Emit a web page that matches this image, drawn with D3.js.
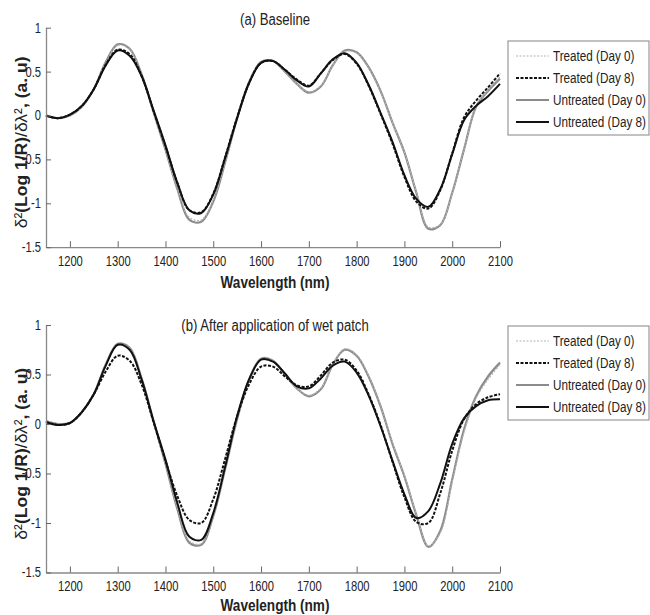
<!DOCTYPE html>
<html><head><meta charset="utf-8">
<script src="https://cdn.jsdelivr.net/npm/d3@7"></script>
<style>
body{margin:0;background:#fff;}
text{font-family:"Liberation Sans",Arial,sans-serif;}
</style></head>
<body><svg id="c" width="650" height="615"></svg>
<script>
const wavelengths = [1150,1175,1200,1225,1250,1275,1300,1325,1350,1375,1400,1425,1450,1475,1500,1525,1550,1575,1600,1625,1650,1675,1700,1725,1750,1775,1800,1825,1850,1875,1900,1925,1950,1975,2000,2025,2050,2075,2100];
const xTicks = [1200,1300,1400,1500,1600,1700,1800,1900,2000,2100];
const yTicks = [-1.5,-1,-0.5,0,0.5,1];
const seriesNames = ["Treated (Day 0)","Treated (Day 8)","Untreated (Day 0)","Untreated (Day 8)"];
const panelTitles = ["(a) Baseline","(b) After application of wet patch"];

// Panel (a) Baseline
const aTreatedDay0 = [0.00,-0.03,0.00,0.10,0.30,0.60,0.80,0.75,0.46,0.04,-0.38,-0.83,-1.16,-1.19,-0.96,-0.52,-0.03,0.38,0.61,0.62,0.50,0.36,0.27,0.34,0.57,0.73,0.71,0.54,0.27,-0.08,-0.42,-0.87,-1.27,-1.24,-0.88,-0.38,0.10,0.29,0.44];
const aTreatedDay8 = [0.00,-0.03,0.01,0.11,0.30,0.58,0.75,0.70,0.45,0.05,-0.35,-0.77,-1.08,-1.10,-0.89,-0.47,-0.02,0.37,0.60,0.62,0.52,0.41,0.34,0.48,0.63,0.70,0.59,0.34,0.02,-0.32,-0.70,-0.98,-1.06,-0.85,-0.43,-0.02,0.17,0.32,0.48];
const aUntreatedDay0 = [0.00,-0.03,0.00,0.10,0.30,0.61,0.81,0.76,0.47,0.04,-0.39,-0.84,-1.19,-1.21,-0.98,-0.53,-0.03,0.38,0.61,0.62,0.50,0.36,0.26,0.33,0.57,0.74,0.72,0.55,0.28,-0.08,-0.42,-0.88,-1.29,-1.25,-0.88,-0.38,0.10,0.28,0.42];
const aUntreatedDay8 = [0.00,-0.03,0.01,0.11,0.30,0.57,0.74,0.68,0.45,0.06,-0.34,-0.77,-1.08,-1.11,-0.90,-0.48,-0.03,0.37,0.60,0.62,0.52,0.40,0.33,0.48,0.64,0.71,0.60,0.35,0.03,-0.30,-0.68,-0.95,-1.04,-0.84,-0.44,-0.05,0.11,0.22,0.36];

// Panel (b) After application of wet patch
const bTreatedDay0 = [0.03,0.00,0.01,0.12,0.30,0.60,0.80,0.76,0.46,0.03,-0.39,-0.85,-1.18,-1.21,-0.92,-0.45,0.05,0.45,0.66,0.64,0.50,0.36,0.29,0.36,0.60,0.76,0.70,0.49,0.19,-0.19,-0.52,-0.91,-1.23,-1.10,-0.58,-0.08,0.26,0.45,0.60];
const bTreatedDay8 = [0.02,-0.01,0.01,0.12,0.30,0.53,0.69,0.64,0.40,0.02,-0.37,-0.73,-0.97,-1.00,-0.76,-0.35,0.08,0.40,0.58,0.58,0.48,0.39,0.38,0.49,0.62,0.65,0.54,0.30,-0.01,-0.38,-0.74,-0.99,-1.00,-0.70,-0.27,0.05,0.20,0.27,0.30];
const bUntreatedDay0 = [0.03,0.00,0.01,0.12,0.30,0.60,0.81,0.77,0.46,0.03,-0.40,-0.86,-1.20,-1.22,-0.93,-0.45,0.05,0.45,0.66,0.64,0.50,0.36,0.28,0.35,0.60,0.75,0.69,0.48,0.18,-0.20,-0.53,-0.92,-1.24,-1.08,-0.56,-0.05,0.28,0.48,0.62];
const bUntreatedDay8 = [0.02,-0.01,0.01,0.12,0.30,0.59,0.80,0.75,0.45,0.03,-0.36,-0.80,-1.14,-1.17,-0.90,-0.43,0.08,0.45,0.65,0.63,0.51,0.38,0.36,0.46,0.59,0.63,0.52,0.29,-0.02,-0.37,-0.71,-0.95,-0.88,-0.60,-0.20,0.06,0.18,0.24,0.25];

const styles = [
  {color:"#b4b4b4", width:1.2, dash:"2,1.5"},
  {color:"#111", width:2, dash:"3,1.5"},
  {color:"#8c8c8c", width:2.2, dash:null},
  {color:"#111", width:2, dash:null}
];
const drawOrder = [2,0,3,1];
const SQ = 0.8; // horizontal condensing of the text

const svg = d3.select("#c");
const x = d3.scaleLinear().domain([1150,2100]).range([46,500]);

function ctext(g, px, py, size, s){
  return g.append("text").attr("transform",`translate(${px},${py}) scale(${s},1)`)
    .style("font-size",size+"px").attr("fill","#222");
}

function panel(series, title, yTop, yBot, legendTop, titleY, xLabelY){
  const y = d3.scaleLinear().domain([-1.5,1]).range([yBot,yTop]);
  const g = svg.append("g");
  const line = d3.line().x((d,i)=>x(wavelengths[i])).y(d=>y(d)).curve(d3.curveCatmullRom.alpha(0.5));
  drawOrder.forEach(k=>{
    g.append("path").datum(series[k]).attr("d",line).attr("fill","none")
      .attr("stroke",styles[k].color).attr("stroke-width",styles[k].width)
      .attr("stroke-dasharray",styles[k].dash).attr("stroke-linejoin","round");
  });
  const xa = g.append("g").attr("transform",`translate(0,${yBot})`)
    .call(d3.axisBottom(x).tickValues(xTicks).tickSizeInner(-6).tickSizeOuter(0).tickFormat(d3.format("d")));
  const ya = g.append("g").attr("transform",`translate(46,0)`)
    .call(d3.axisLeft(y).tickValues(yTicks).tickSizeInner(-5).tickSizeOuter(0).tickFormat(d=>d===0?"0":String(d)));
  [xa,ya].forEach(a=>{
    a.select(".domain").attr("stroke","#888").attr("stroke-width",1.3);
    a.selectAll(".tick line").attr("stroke","#666");
    a.selectAll(".tick text").attr("fill","#222").style("font-size","14px").attr("transform",`scale(${SQ},1)`);
  });
  xa.selectAll(".tick text").attr("dy","0.71em").attr("y",9);
  ya.selectAll(".tick text").attr("x",-5/SQ);
  ctext(g, 275, titleY, 16, 0.82).attr("text-anchor","middle").text(title);
  ctext(g, 275, xLabelY, 17, 0.8).attr("text-anchor","middle").style("font-weight","bold").text("Wavelength (nm)");
  const yl = g.append("text").attr("transform",`translate(27,${(yTop+yBot)/2+5}) rotate(-90) scale(1.03,1)`)
    .attr("text-anchor","middle").style("font-size","17px").attr("fill","#222");
  yl.append("tspan").text("δ²");
  yl.append("tspan").style("font-weight","bold").text("(Log 1/R)");
  yl.append("tspan").text("/δλ²");
  yl.append("tspan").style("font-weight","bold").text(", (a. u)");
  // legend
  const lg = g.append("g");
  lg.append("rect").attr("x",508).attr("y",legendTop).attr("width",141).attr("height",94)
    .attr("fill","#fff").attr("stroke","#999").attr("stroke-width",1.2);
  seriesNames.forEach((n,k)=>{
    const ry = legendTop + 15 + k*22;
    lg.append("line").attr("x1",516).attr("x2",549).attr("y1",ry).attr("y2",ry)
      .attr("stroke",styles[k].color).attr("stroke-width",styles[k].width).attr("stroke-dasharray",styles[k].dash);
    ctext(lg, 553, ry, 15, 0.78).attr("dy","0.35em").text(n);
  });
}
panel([aTreatedDay0,aTreatedDay8,aUntreatedDay0,aUntreatedDay8], panelTitles[0], 27.7, 247.2, 41, 25, 288);
panel([bTreatedDay0,bTreatedDay8,bUntreatedDay0,bUntreatedDay8], panelTitles[1], 325, 572.5, 326, 331, 611);
</script></body></html>
